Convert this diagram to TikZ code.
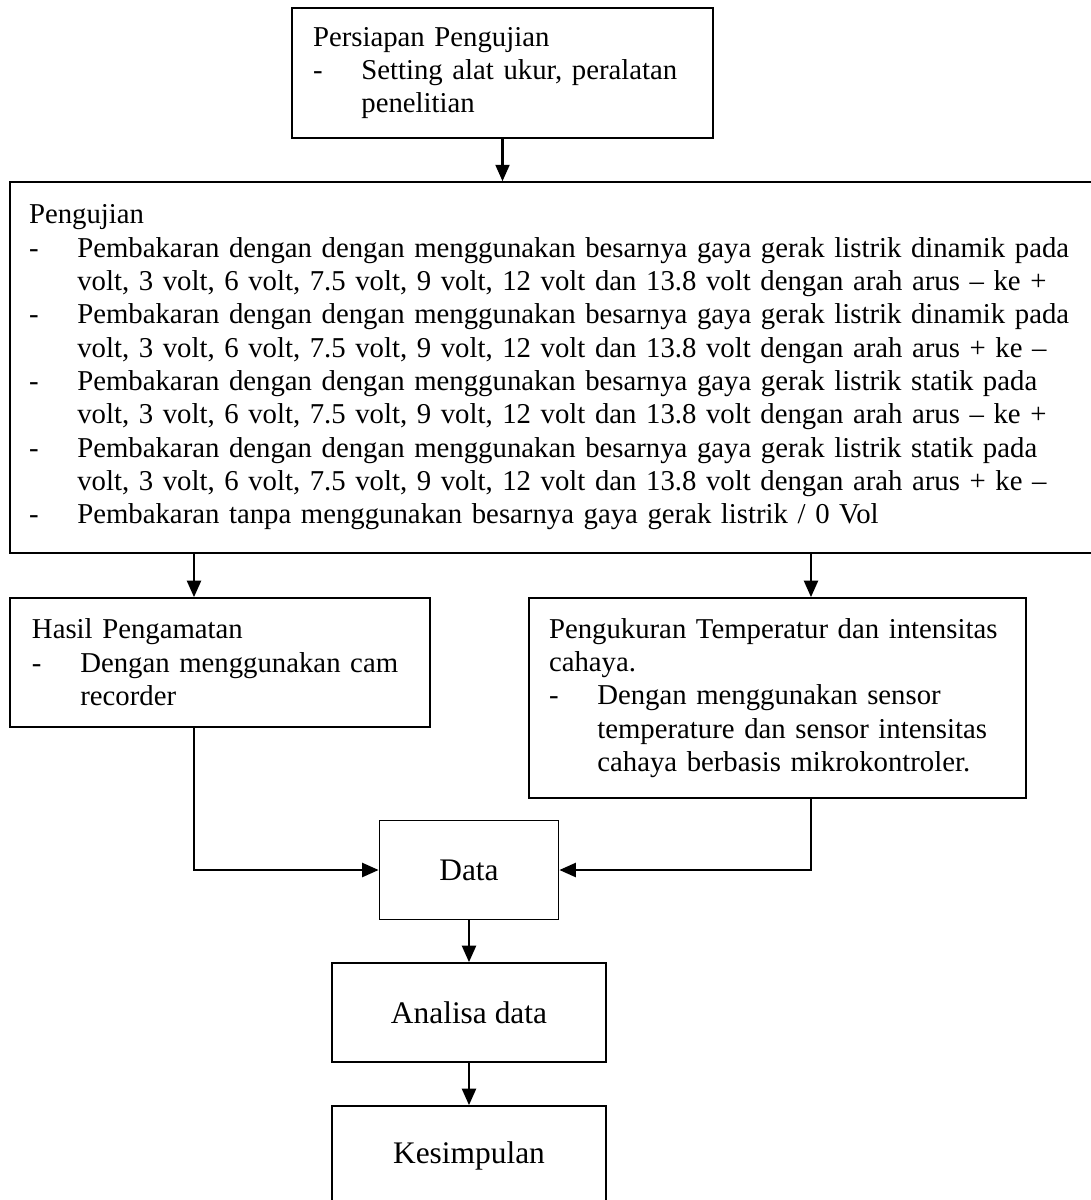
\documentclass[tikz,border=0pt]{standalone}
\usepackage{fontspec}
\setmainfont{Liberation Serif}
\usetikzlibrary{arrows.meta}
% butir berstrip dengan indentasi gantung
\newcommand{\strip}{\par\noindent\hangindent=20pt\hangafter=1\makebox[20pt][l]{-}}
\newcommand{\putus}{\hfil\break}
\begin{document}
\begin{tikzpicture}[x=0.4138pt,y=-0.4138pt,
  kotak/.style={draw,line width=0.7pt,inner sep=0pt,align=left,font=\fontsize{11.9}{13.8}\selectfont},
  kecil/.style={draw,line width=0.7pt,inner sep=0pt,font=\fontsize{13}{15.6}\selectfont,minimum height=41pt},
  panah/.style={line width=0.9pt,-{Triangle[length=6.8pt,width=5.8pt]}}]
\useasboundingbox (0,0) rectangle (1091,1200);
\clip (0,0) rectangle (1091,1200);
% kotak-kotak
\node[kotak,minimum width=174.2pt,minimum height=53.8pt,text width=156.8pt] (persiapan) at (502.5,73)
  {Persiapan Pengujian\strip Setting alat ukur, peralatan\putus penelitian\par};
\node[kotak,minimum width=451pt,minimum height=153.5pt,text width=435.3pt] (uji) at (555,367.5)
  {Pengujian
   \strip Pembakaran dengan dengan menggunakan besarnya gaya gerak listrik dinamik pada\putus volt, 3 volt, 6 volt, 7.5 volt, 9 volt, 12 volt dan 13.8 volt dengan arah arus \textendash{} ke +
   \strip Pembakaran dengan dengan menggunakan besarnya gaya gerak listrik dinamik pada\putus volt, 3 volt, 6 volt, 7.5 volt, 9 volt, 12 volt dan 13.8 volt dengan arah arus + ke \textendash
   \strip Pembakaran dengan dengan menggunakan besarnya gaya gerak listrik statik pada\putus volt, 3 volt, 6 volt, 7.5 volt, 9 volt, 12 volt dan 13.8 volt dengan arah arus \textendash{} ke +
   \strip Pembakaran dengan dengan menggunakan besarnya gaya gerak listrik statik pada\putus volt, 3 volt, 6 volt, 7.5 volt, 9 volt, 12 volt dan 13.8 volt dengan arah arus + ke \textendash
   \strip Pembakaran tanpa menggunakan besarnya gaya gerak listrik / 0 Vol\par};
\node[kotak,minimum width=173.8pt,minimum height=53.4pt,text width=155.6pt] (hasil) at (220,662.5)
  {Hasil Pengamatan\strip Dengan menggunakan cam\putus recorder\par};
\node[kotak,minimum width=205.7pt,minimum height=82.8pt,text width=189.1pt] (ukur) at (777.5,698)
  {Pengukuran Temperatur dan intensitas\putus cahaya.\strip Dengan menggunakan sensor\putus temperature dan sensor intensitas\putus cahaya berbasis mikrokontroler.\par};
\node[kecil,minimum width=74.1pt] (data) at (469,870) {Data};
\node[kecil,minimum width=113.4pt] (analisa) at (469,1012.5) {Analisa data};
\node[kecil,minimum width=113.4pt] (simpul) at (469,1155.5) {Kesimpulan};
% panah
\coordinate (kiri) at (194,600);
\coordinate (kanan) at (811,600);
\draw[panah] (persiapan.south) -- (uji.north -| persiapan.south);
\draw[panah] (uji.south -| kiri) -- (hasil.north -| kiri);
\draw[panah] (uji.south -| kanan) -- (ukur.north -| kanan);
\draw[panah] (hasil.south -| kiri) |- (data.west);
\draw[panah] (ukur.south -| kanan) |- (data.east);
\draw[panah] (data.south) -- (analisa.north);
\draw[panah] (analisa.south) -- (simpul.north);
\end{tikzpicture}
\end{document}
